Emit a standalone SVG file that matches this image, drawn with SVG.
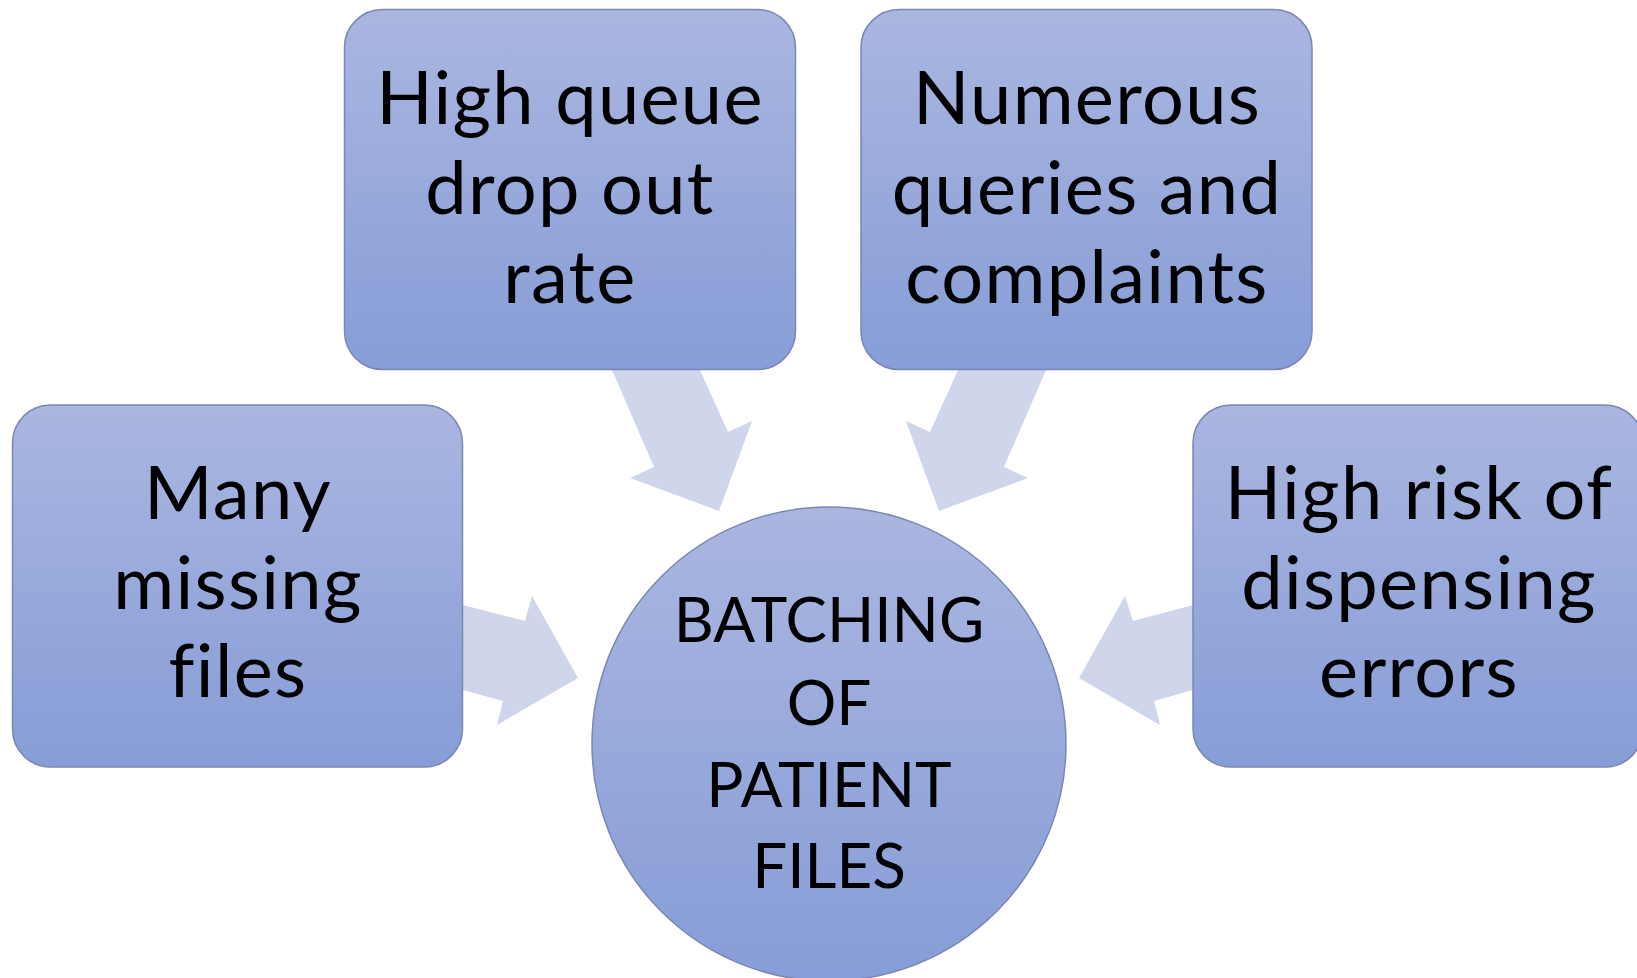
<svg xmlns="http://www.w3.org/2000/svg" width="1637" height="978" viewBox="0 0 1637 978">
<defs>
<linearGradient id="g" x1="0" y1="0" x2="0" y2="1">
<stop offset="0" stop-color="#aab6e0"/>
<stop offset="1" stop-color="#869dd7"/>
</linearGradient>
</defs>
<style>
.box{fill:url(#g);stroke:#7a87b3;stroke-width:1.5}
.arr{fill:#cfd6ec}
.t{font-family:Lato,"Open Sans",sans-serif;font-size:74px;letter-spacing:1.3px;fill:#000;text-anchor:middle}
.c{font-family:Lato,"Open Sans",sans-serif;font-size:62px;fill:#000;text-anchor:middle}
</style>
<rect width="1637" height="978" fill="#fff"/>
<g id="connectors">
<polygon class="arr" points="612,370 654,467 630,478 719,511 752,421 728,432 700,370"/>
<polygon class="arr" points="1046,370 1004,467 1028,478 939,511 906,421 930,432 958,370"/>
<polygon class="arr" points="463,605 525,621 532,596 578,678 497,725 503,701 463,690"/>
<polygon class="arr" points="1193,605 1133,621 1125,596 1079,678 1160,725 1154,701 1193,690"/>
</g>
<g id="node-queue">
<rect class="box" x="344.5" y="9.5" width="451" height="360" rx="38"/>
<text class="t" x="570" y="124">High queue</text>
<text class="t" x="570" y="214">drop out</text>
<text class="t" x="570" y="303">rate</text>
</g>
<g id="node-queries">
<rect class="box" x="861" y="9.5" width="451" height="360" rx="38"/>
<text class="t" x="1087" y="124">Numerous</text>
<text class="t" x="1087" y="214">queries and</text>
<text class="t" x="1087" y="303">complaints</text>
</g>
<g id="node-missing">
<rect class="box" x="12.5" y="405" width="450" height="362" rx="38"/>
<text class="t" x="238" y="519">Many</text>
<text class="t" x="238" y="609">missing</text>
<text class="t" x="238" y="697">files</text>
</g>
<g id="node-errors">
<rect class="box" x="1193" y="405" width="450" height="362" rx="38"/>
<text class="t" x="1419" y="519">High risk of</text>
<text class="t" x="1419" y="609">dispensing</text>
<text class="t" x="1419" y="697">errors</text>
</g>
<g id="node-center">
<circle class="box" cx="829" cy="744" r="237"/>
<text class="c" x="829" y="642">BATCHING</text>
<text class="c" x="829" y="725">OF</text>
<text class="c" x="829" y="807">PATIENT</text>
<text class="c" x="829" y="888">FILES</text>
</g>
</svg>
